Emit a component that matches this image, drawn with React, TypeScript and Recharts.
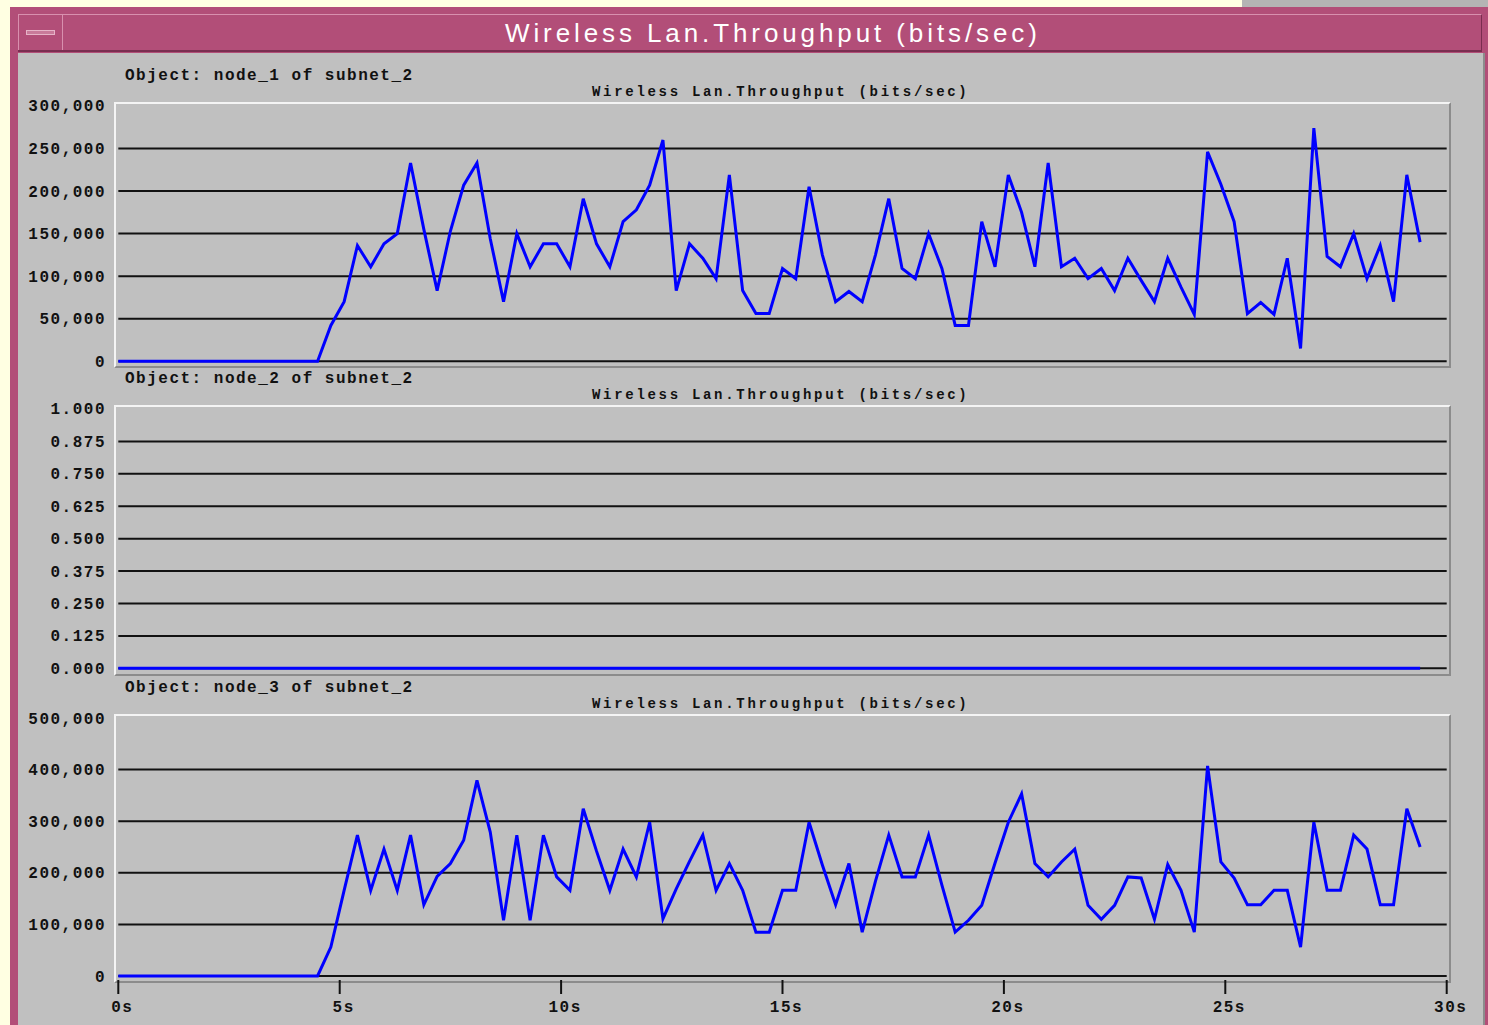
import React from 'react'
import { LineChart, Line, XAxis, YAxis, CartesianGrid } from 'recharts'

// sample times (s); the simulation only starts sending at ~4.5 s
const times = [
  0, 4.5, 4.8, 5.1, 5.4, 5.7, 6.0, 6.3, 6.6, 6.9,
  7.2, 7.5, 7.8, 8.1, 8.4, 8.7, 9.0, 9.3, 9.6, 9.9,
  10.2, 10.5, 10.8, 11.1, 11.4, 11.7, 12.0, 12.3, 12.6, 12.9,
  13.2, 13.5, 13.8, 14.1, 14.4, 14.7, 15.0, 15.3, 15.6, 15.9,
  16.2, 16.5, 16.8, 17.1, 17.4, 17.7, 18.0, 18.3, 18.6, 18.9,
  19.2, 19.5, 19.8, 20.1, 20.4, 20.7, 21.0, 21.3, 21.6, 21.9,
  22.2, 22.5, 22.8, 23.1, 23.4, 23.7, 24.0, 24.3, 24.6, 24.9,
  25.2, 25.5, 25.8, 26.1, 26.4, 26.7, 27.0, 27.3, 27.6, 27.9,
  28.2, 28.5, 28.8, 29.1, 29.4,
]

// node_1 throughput (bits/sec)
const node1 = [
  0, 0, 42000, 70000, 136000, 111000, 138000, 150000, 233000, 155000,
  83000, 153000, 207000, 233000, 144000, 70000, 150000, 111000, 138000, 138000,
  111000, 191000, 138000, 111000, 164000, 178000, 207000, 260000, 83000, 138000,
  121000, 97000, 219000, 83000, 56000, 56000, 109000, 97000, 205000, 125000,
  70000, 82000, 70000, 125000, 191000, 109000, 97000, 150000, 109000, 42000,
  42000, 164000, 111000, 219000, 175000, 111000, 233000, 111000, 121000, 97000,
  109000, 83000, 121000, 95000, 70000, 121000, 87000, 55000, 246000, 208000,
  164000, 56000, 69000, 55000, 121000, 15000, 274000, 123000, 111000, 150000,
  97000, 136000, 70000, 219000, 140000,
]

// node_2 never receives anything
const node2 = [
  0, 0, 0, 0, 0, 0, 0, 0, 0, 0,
  0, 0, 0, 0, 0, 0, 0, 0, 0, 0,
  0, 0, 0, 0, 0, 0, 0, 0, 0, 0,
  0, 0, 0, 0, 0, 0, 0, 0, 0, 0,
  0, 0, 0, 0, 0, 0, 0, 0, 0, 0,
  0, 0, 0, 0, 0, 0, 0, 0, 0, 0,
  0, 0, 0, 0, 0, 0, 0, 0, 0, 0,
  0, 0, 0, 0, 0, 0, 0, 0, 0, 0,
  0, 0, 0, 0, 0,
]

// node_3 throughput (bits/sec)
const node3 = [
  0, 0, 56000, 166000, 273000, 166000, 246000, 166000, 273000, 138000,
  193000, 218000, 263000, 379000, 279000, 108000, 273000, 108000, 273000, 192000,
  166000, 324000, 242000, 166000, 246000, 192000, 298000, 111000, 169000, 222000,
  273000, 166000, 218000, 166000, 85000, 85000, 166000, 166000, 298000, 215000,
  138000, 218000, 85000, 184000, 273000, 192000, 192000, 273000, 176000, 85000,
  108000, 137000, 219000, 298000, 353000, 218000, 192000, 221000, 246000, 137000,
  110000, 137000, 192000, 190000, 110000, 216000, 166000, 85000, 407000, 221000,
  190000, 138000, 138000, 166000, 166000, 56000, 298000, 166000, 166000, 273000,
  246000, 138000, 138000, 324000, 250000,
]

const ticks1 = [0, 50000, 100000, 150000, 200000, 250000, 300000]
const ticks2 = [0, 0.125, 0.25, 0.375, 0.5, 0.625, 0.75, 0.875, 1]
const ticks3 = [0, 100000, 200000, 300000, 400000, 500000]
const timeTicks = [0, 5, 10, 15, 20, 25, 30]

const TITLE = 'Wireless Lan.Throughput (bits/sec)'
const PINK = '#b24e78'
const GRAY = '#c0c0c0'
const MONO = '"Liberation Mono", "DejaVu Sans Mono", monospace'
const PLOT_LEFT = 118.3
const PLOT_RIGHT = 1446.7

const labelText: React.CSSProperties = {
  position: 'absolute',
  fontFamily: MONO,
  fontSize: 16,
  fontWeight: 'bold',
  letterSpacing: 1.5,
  color: '#111',
  whiteSpace: 'pre',
  lineHeight: '18px',
}

const subText: React.CSSProperties = {
  ...labelText,
  fontSize: 14,
  letterSpacing: 2.7,
  lineHeight: '16px',
}

const fmtInt = (v: number) => v.toLocaleString('en-US')
const fmtFrac = (v: number) => v.toFixed(3)

interface PanelProps {
  values: number[]
  ticks: number[]
  fmt: (v: number) => string
  yTop: number
  yZero: number
  node: string
  withAxis?: boolean
}

function Panel({ values, ticks, fmt, yTop, yZero, node, withAxis }: PanelProps) {
  const data = times.map((t, i) => ({ t, v: values[i] }))
  const padTop = 12
  const padBottom = 12
  const axisH = withAxis ? 40 : 0
  const max = ticks[ticks.length - 1]

  const yTick = (p: any) => (
    <text
      x={106}
      y={p.y}
      dy={5.5}
      textAnchor="end"
      fontFamily={MONO}
      fontSize={16}
      fontWeight="bold"
      letterSpacing={1.5}
      fill="#111"
    >
      {fmt(p.payload.value)}
    </text>
  )

  const xTick = (p: any) => (
    <g>
      <line x1={p.x} x2={p.x} y1={yZero + 4 - (yTop - padTop)} y2={yZero + 18 - (yTop - padTop)} stroke="#111" strokeWidth={2} />
      <text
        x={p.x + 4}
        y={yZero + 36 - (yTop - padTop)}
        textAnchor="middle"
        fontFamily={MONO}
        fontSize={16}
        fontWeight="bold"
        letterSpacing={1.5}
        fill="#111"
      >
        {`${p.payload.value}s`}
      </text>
    </g>
  )

  return (
    <>
      <div style={{ ...labelText, left: 125, top: yTop - 39 }}>{`Object: ${node} of subnet_2`}</div>
      <div style={{ ...subText, left: 592, top: yTop - 22 }}>{TITLE}</div>
      <div
        style={{
          position: 'absolute',
          left: 114,
          top: yTop - 4,
          width: 1336.7 - 4,
          height: yZero - yTop + 4 + 3.5,
          borderTop: '2px solid #f4f4f4',
          borderLeft: '2px solid #f4f4f4',
          borderRight: '2px solid #8c8c8c',
          borderBottom: '2px solid #8c8c8c',
        }}
      />
      <div style={{ position: 'absolute', left: 0, top: yTop - padTop }}>
        <LineChart
          width={1488}
          height={yZero - yTop + padTop + padBottom + axisH}
          data={data}
          margin={{ top: padTop, right: 1488 - PLOT_RIGHT, bottom: padBottom, left: 0 }}
        >
          <CartesianGrid
            horizontal
            vertical={false}
            stroke="#111"
            strokeWidth={2}
            horizontalValues={ticks.slice(0, -1)}
          />
          <XAxis
            dataKey="t"
            type="number"
            domain={[0, 30]}
            ticks={timeTicks}
            interval={0}
            hide={!withAxis}
            height={axisH}
            axisLine={false}
            tickLine={false}
            tick={xTick}
          />
          <YAxis
            type="number"
            domain={[0, max]}
            ticks={ticks}
            interval={0}
            width={PLOT_LEFT}
            axisLine={false}
            tickLine={false}
            tick={yTick}
          />
          <Line
            type="linear"
            dataKey="v"
            stroke="#0000ff"
            strokeWidth={3}
            dot={false}
            isAnimationActive={false}
          />
        </LineChart>
      </div>
    </>
  )
}

export default function App() {
  return (
    <div
      style={{
        position: 'absolute',
        left: 0,
        top: 0,
        width: 1488,
        height: 1025,
        overflow: 'hidden',
        background: '#ffffe2',
      }}
    >
      {/* window behind, top right */}
      <div style={{ position: 'absolute', left: 1242, top: 0, width: 246, height: 10, background: '#b4b4b4' }} />
      {/* window frame */}
      <div style={{ position: 'absolute', left: 10, top: 7, width: 1478, height: 1018, background: PINK }} />
      {/* body */}
      <div
        style={{
          position: 'absolute',
          left: 18,
          top: 53,
          width: 1465,
          height: 972,
          background: GRAY,
          borderRight: '2px solid #8c8c8c',
        }}
      />
      {/* title bar */}
      <div
        style={{
          position: 'absolute',
          left: 18,
          top: 14,
          width: 1463,
          height: 35,
          background: PINK,
          borderTop: '1px solid #d890ae',
          borderBottom: '2px solid #7a2e50',
          borderRight: '1px solid #7a2e50',
        }}
      />
      <div
        style={{
          position: 'absolute',
          left: 18,
          top: 14,
          width: 43,
          height: 36,
          borderRight: '1px solid #d890ae',
          borderLeft: '1px solid #d890ae',
        }}
      />
      <div
        style={{
          position: 'absolute',
          left: 26,
          top: 30,
          width: 27,
          height: 3,
          background: '#c97a9a',
          border: '1px solid #e6b4c8',
        }}
      />
      <div
        style={{
          position: 'absolute',
          left: 505,
          top: 17,
          fontFamily: '"Liberation Sans", Arial, sans-serif',
          fontSize: 26,
          letterSpacing: 3.9,
          color: '#ffffff',
          whiteSpace: 'pre',
          lineHeight: '32px',
        }}
      >
        {TITLE}
      </div>

      <Panel values={node1} ticks={ticks1} fmt={fmtInt} yTop={105.5} yZero={360.7} node="node_1" />
      <Panel values={node2} ticks={ticks2} fmt={fmtFrac} yTop={409} yZero={668.3} node="node_2" />
      <Panel values={node3} ticks={ticks3} fmt={fmtInt} yTop={717.7} yZero={975.7} node="node_3" withAxis />
    </div>
  )
}
